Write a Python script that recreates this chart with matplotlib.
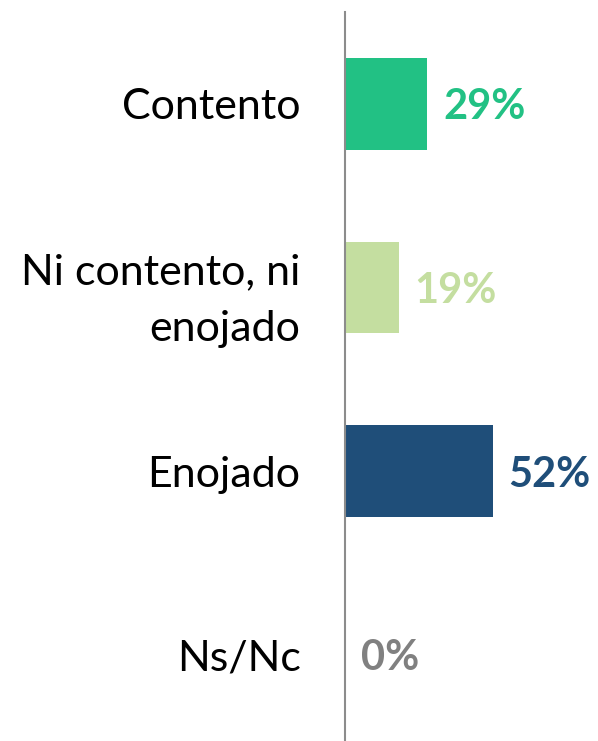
import matplotlib
matplotlib.use("Agg")
import matplotlib.pyplot as plt

categories = ["Contento", "Ni contento, ni\nenojado", "Enojado", "Ns/Nc"]
values = [29, 19, 52, 0]
bar_colors = ["#22C184", "#C4DEA0", "#1F4E79", "#808080"]
label_colors = ["#22C184", "#C4DEA0", "#1F4E79", "#808080"]

plt.rcParams['font.family'] = ['Lato', 'DejaVu Sans']

fig = plt.figure(figsize=(5.98, 7.41), dpi=100)
ax = fig.add_axes([345/598, 0, 1 - 345/598, 1 - 12/741])

y = list(range(len(categories)))
ax.barh(y, values, height=0.5, color=bar_colors)
ax.set_ylim(3.47, -0.5)
ax.set_xlim(0, 89)

for yi, v, c in zip(y, values, label_colors):
    ax.text(v + 5.5, yi + 0.02, f"{v}%", va="center", ha="left", fontsize=30,
            fontweight="bold", color=c)

ax.set_yticks(y)
ax.set_yticklabels(categories, fontsize=31, color="black", linespacing=1.6)
ax.tick_params(axis="y", length=0, pad=32)
ax.set_xticks([])
for s in ["top", "right", "bottom"]:
    ax.spines[s].set_visible(False)
ax.spines["left"].set_color("#8C8C8C")
ax.spines["left"].set_linewidth(1.5)

fig.savefig("out.png", dpi=100)
